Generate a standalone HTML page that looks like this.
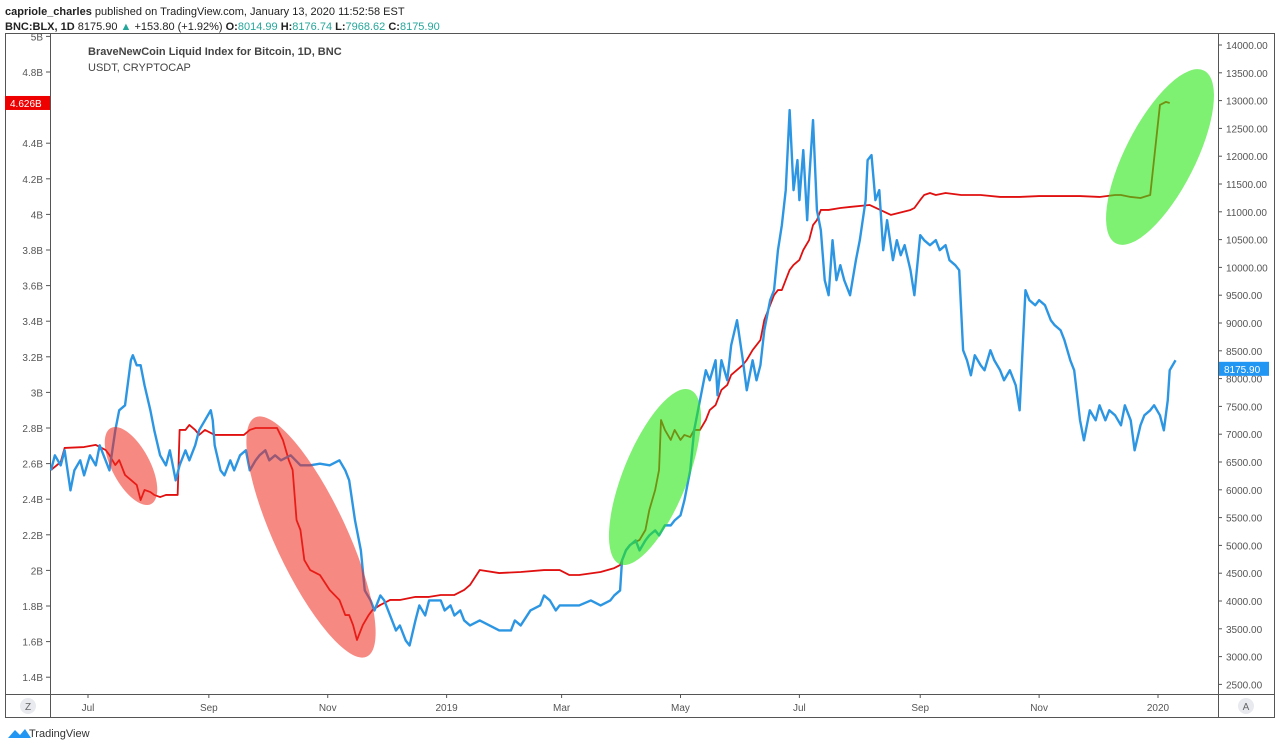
<!DOCTYPE html>
<html><head><meta charset="utf-8"><style>
body{margin:0;width:1280px;height:748px;background:#fff;font-family:"Liberation Sans",sans-serif;overflow:hidden}
svg text{font-family:"Liberation Sans",sans-serif}
</style></head><body>
<svg id="c" width="1280" height="748">
<text x="5" y="15" font-size="11" fill="#222"><tspan font-weight="bold">capriole_charles</tspan> published on TradingView.com, January 13, 2020 11:52:58 EST</text>
<text x="5" y="30" font-size="11" fill="#222"><tspan font-weight="bold">BNC:BLX, 1D</tspan> 8175.90 <tspan fill="#26a69a">▲</tspan> +153.80 (+1.92%) <tspan font-weight="bold">O:</tspan><tspan fill="#26a69a">8014.99</tspan> <tspan font-weight="bold">H:</tspan><tspan fill="#26a69a">8176.74</tspan> <tspan font-weight="bold">L:</tspan><tspan fill="#26a69a">7968.62</tspan> <tspan font-weight="bold">C:</tspan><tspan fill="#26a69a">8175.90</tspan></text>
<rect x="5.5" y="33.5" width="1269" height="684" fill="none" stroke="#555"/>
<line x1="50.5" y1="33" x2="50.5" y2="718" stroke="#555"/>
<line x1="1218.5" y1="33" x2="1218.5" y2="718" stroke="#555"/>
<line x1="5" y1="694.5" x2="1275" y2="694.5" stroke="#555"/>
<g id="axes"></g>
<g id="series"></g>
<g id="marks">
<ellipse cx="131" cy="466" rx="19" ry="43" transform="rotate(-28 131 466)" fill="rgb(240,40,30)" fill-opacity="0.55"/>
<ellipse cx="311" cy="537" rx="36" ry="132" transform="rotate(-25 311 537)" fill="rgb(240,40,30)" fill-opacity="0.55"/>
<ellipse cx="655" cy="477" rx="32" ry="94" transform="rotate(22 655 477)" fill="rgb(40,230,20)" fill-opacity="0.6"/>
<ellipse cx="1160" cy="157" rx="35" ry="97" transform="rotate(27 1160 157)" fill="rgb(40,230,20)" fill-opacity="0.6"/>
</g>
<text x="88" y="55" font-size="11" font-weight="bold" fill="#444">BraveNewCoin Liquid Index for Bitcoin, 1D, BNC</text>
<text x="88" y="71" font-size="11" fill="#444">USDT, CRYPTOCAP</text>
<circle cx="28" cy="706" r="8" fill="#e8eaf0"/>
<text x="28" y="710" font-size="10" fill="#666" text-anchor="middle">Z</text>
<circle cx="1246" cy="706" r="8" fill="#e8eaf0"/>
<text x="1246" y="710" font-size="10" fill="#666" text-anchor="middle">A</text>
<path d="M8 738 L15 730 L20 735 L25 729 L31 738 Z" fill="#2196f3"/>
<text x="29" y="737" font-size="11" fill="#333">TradingView</text>
</svg>
<script>
const btcDays=[-19,-17,-14,-12,-9,-7,-4,-2,1,4,6,9,11,14,16,19,22,23,25,27,29,32,34,37,40,42,45,47,50,52,55,57,60,63,64,65,68,70,73,75,78,81,83,86,88,91,93,96,99,104,109,114,119,124,129,132,134,137,140,142,145,147,150,152,155,158,160,163,165,168,170,173,175,181,183,186,188,191,193,196,201,206,211,217,219,222,227,232,234,237,240,242,247,252,258,263,268,270,273,274,276,278,281,283,286,288,291,293,296,299,301,304,306,309,311,314,317,319,322,323,325,328,330,333,336,338,341,343,345,347,350,352,354,356,358,360,362,364,365,367,369,370,372,374,376,378,380,382,384,386,388,391,394,396,399,400,402,404,406,408,410,413,415,417,419,422,424,427,429,432,435,437,440,442,445,447,449,451,453,455,458,460,463,465,468,470,473,476,478,481,483,486,488,491,494,496,499,501,504,506,509,511,513,514,517,519,522,524,527,530,532,535,537,540,542,545,547,550,552,554,555,558];
const btcPrice=[6350,6620,6440,6710,5990,6350,6530,6260,6620,6440,6800,6530,6350,7070,7430,7520,8330,8420,8240,8240,7880,7430,7070,6620,6440,6710,6170,6440,6710,6530,6800,7070,7250,7430,7250,6800,6350,6260,6530,6350,6620,6710,6350,6530,6620,6710,6530,6620,6530,6620,6440,6440,6470,6440,6530,6350,6170,5450,4910,4190,4010,3830,4100,4010,3740,3470,3560,3290,3200,3650,3920,3740,4010,4010,3830,3920,3740,3830,3650,3560,3650,3560,3470,3470,3650,3560,3830,3920,4100,4010,3830,3920,3920,3920,4010,3920,4010,4100,4190,4730,4910,5000,5090,4910,5090,5180,5270,5180,5360,5360,5450,5540,5810,6350,7070,7610,8150,7970,8330,7700,8330,7970,8600,9050,8330,7790,8330,7970,8240,8870,9410,9590,10310,10760,11390,12830,11390,11930,11210,12110,10850,11570,12650,11030,10670,9770,9500,10490,9770,10040,9770,9500,10130,10490,11210,11930,12020,11210,11390,10310,10850,10130,10490,10220,10400,9950,9500,10580,10490,10400,10490,10310,10400,10130,10040,9950,8510,8330,8060,8420,8240,8150,8510,8330,8150,7970,8150,7880,7430,9590,9410,9320,9410,9320,9050,8960,8870,8690,8330,8150,7250,6890,7250,7430,7250,7520,7250,7430,7340,7160,7520,7250,6710,7160,7340,7430,7520,7340,7070,7610,8150,8330,8240,8330];
const usdtDays=[-19,-14,-12,-2,4,9,11,14,16,19,22,25,27,29,32,34,37,40,42,46,47,50,52,55,57,60,65,73,80,83,86,93,97,100,103,105,107,109,111,114,119,124,129,132,134,136,138,141,144,146,150,155,160,168,175,181,188,193,196,201,211,222,234,242,247,252,263,270,273,276,278,283,286,288,291,293,294,296,299,301,304,306,309,311,314,317,319,322,325,328,330,333,336,338,341,343,345,347,350,352,354,356,358,360,362,365,367,370,372,374,376,378,380,386,391,401,412,422,424,427,429,432,435,440,448,458,468,478,488,499,509,519,527,530,535,540,545,550,552,553,555,558,560];
const usdtVal=[2.564,2.609,2.688,2.693,2.705,2.677,2.648,2.592,2.620,2.536,2.508,2.480,2.395,2.452,2.440,2.424,2.412,2.424,2.424,2.424,2.789,2.789,2.817,2.789,2.761,2.789,2.761,2.761,2.761,2.789,2.800,2.800,2.800,2.733,2.620,2.564,2.283,2.227,2.058,2.002,1.974,1.890,1.834,1.749,1.749,1.693,1.609,1.693,1.749,1.778,1.806,1.834,1.834,1.851,1.851,1.862,1.862,1.890,1.918,2.002,1.985,1.991,2.002,2.002,1.974,1.974,1.991,2.013,2.030,2.115,2.143,2.171,2.227,2.339,2.452,2.564,2.845,2.789,2.733,2.789,2.733,2.761,2.749,2.789,2.789,2.845,2.901,2.929,3.014,3.042,3.098,3.126,3.154,3.182,3.238,3.266,3.294,3.407,3.491,3.547,3.575,3.575,3.632,3.688,3.716,3.744,3.800,3.856,3.940,3.968,4.025,4.025,4.025,4.036,4.042,4.053,3.997,4.025,4.036,4.081,4.109,4.120,4.109,4.120,4.109,4.109,4.098,4.098,4.103,4.103,4.103,4.098,4.109,4.109,4.098,4.092,4.109,4.615,4.626,4.632,4.626];
const priceTicks=[2500,3000,3500,4000,4500,5000,5500,6000,6500,7000,7500,8000,8500,9000,9500,10000,10500,11000,11500,12000,12500,13000,13500,14000];
const capTicks=[1.4,1.6,1.8,2.0,2.2,2.4,2.6,2.8,3.0,3.2,3.4,3.6,3.8,4.0,4.2,4.4,4.8,5.0];
const capTickLabels=["1.4B","1.6B","1.8B","2B","2.2B","2.4B","2.6B","2.8B","3B","3.2B","3.4B","3.6B","3.8B","4B","4.2B","4.4B","4.8B","5B"];
const monthDays=[0,62,123,184,243,304,365,427,488,549];
const monthLabels=["Jul","Sep","Nov","2019","Mar","May","Jul","Sep","Nov","2020"];
const lastPrice=8175.90, lastCap=4.626;

const X=d=>88+d*1.949;
const YP=p=>45+(14000-p)/500*27.8;
const YC=v=>72+(4.8-v)*178;
const NS="http://www.w3.org/2000/svg";
function mk(t,a,p){const e=document.createElementNS(NS,t);for(const k in a)e.setAttribute(k,a[k]);p.appendChild(e);return e;}
const ax=document.getElementById('axes'), se=document.getElementById('series');
priceTicks.forEach(p=>{const y=YP(p);
 const l=mk('line',{x1:1218,x2:1222,y1:y,y2:y,stroke:'#555'},ax);
 const t=mk('text',{x:1226,y:y+4,'font-size':10,fill:'#555'},ax);t.textContent=p.toFixed(2);
 
 });
capTicks.forEach((v,i)=>{const y=YC(v); if(y<36)return;
 mk('line',{x1:46,x2:50,y1:y,y2:y,stroke:'#555'},ax);
 const t=mk('text',{x:43,y:y+4,'font-size':10,fill:'#555','text-anchor':'end'},ax);t.textContent=capTickLabels[i];
 
 });
monthDays.forEach((d,i)=>{const x=X(d);
 mk('line',{x1:x,x2:x,y1:694,y2:698,stroke:'#555'},ax);
 const t=mk('text',{x:x,y:711,'font-size':10,fill:'#555','text-anchor':'middle'},ax);t.textContent=monthLabels[i];
 
 });
const rp=mk('polyline',{points:usdtDays.map((d,i)=>X(d)+','+YC(usdtVal[i])).join(' '),fill:'none',stroke:'#e01010','stroke-width':1.8,'stroke-linejoin':'round'},se);


const bp=mk('polyline',{points:btcDays.map((d,i)=>X(d)+','+YP(btcPrice[i])).join(' '),fill:'none',stroke:'#2d96e3','stroke-width':2.4,'stroke-linejoin':'round'},se);


let y=YP(lastPrice);
const b1=mk('rect',{x:1219,y:y-7,width:50,height:14,fill:'#2196f3'},ax);


const t1=mk('text',{x:1224,y:y+4,'font-size':10,fill:'#fff'},ax);t1.textContent=lastPrice.toFixed(2);
y=YC(lastCap);
const b2=mk('rect',{x:5,y:y-7,width:45,height:14,fill:'#ee0000'},ax);


const t2=mk('text',{x:10,y:y+4,'font-size':10,fill:'#fff'},ax);t2.textContent=lastCap.toFixed(3)+'B';
</script>
</body></html>
